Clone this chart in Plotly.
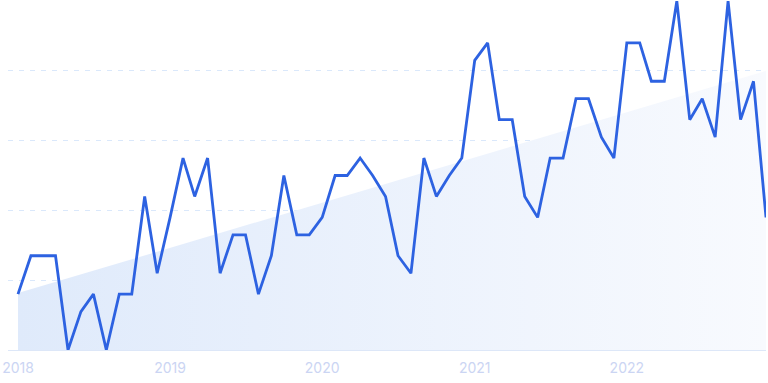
import pandas as pd
import plotly.graph_objects as go

months = pd.date_range("2018-01-01", periods=60, freq="MS")
values = [16, 27, 27, 27, 0, 11, 16, 0, 16, 16, 44, 22,
          38, 55, 44, 55, 22, 33, 33, 16, 27, 50, 33, 33,
          38, 50, 50, 55, 50, 44, 27, 22, 55, 44, 50, 55,
          83, 88, 66, 66, 44, 38, 55, 55, 72, 72, 61, 55,
          88, 88, 77, 77, 100, 66, 72, 61, 100, 66, 77, 38]
trend_dates = [months[0], months[-1]]
trend_values = [16.3, 80]
tick_dates = ["2018-01-01", "2019-01-01", "2020-01-01", "2021-01-01", "2022-01-01"]
tick_labels = ["2018", "2019", "2020", "2021", "2022"]
grid_vals = [20, 40, 60, 80, 100]

fig = go.Figure()
fig.add_trace(go.Scatter(
    x=trend_dates, y=trend_values, mode="lines",
    line=dict(width=0, color="rgba(0,0,0,0)"),
    fill="tozeroy",
    fillgradient=dict(type="horizontal",
                      colorscale=[[0, "rgb(223,234,251)"], [1, "rgb(248,250,254)"]]),
    hoverinfo="skip", showlegend=False,
))
fig.add_trace(go.Scatter(
    x=months, y=values, mode="lines",
    line=dict(color="#2d62e1", width=2.8),
    showlegend=False,
))

fig.update_layout(
    width=768, height=383,
    margin=dict(l=8, r=2, t=1, b=33),
    paper_bgcolor="white", plot_bgcolor="white",
    font=dict(family="Inter, Roboto, sans-serif"),
)
fig.update_xaxes(
    range=["2017-12-08", "2022-12-01"],
    tickvals=tick_dates, ticktext=tick_labels,
    tickfont=dict(size=14, color="#cbd5f3"),
    showgrid=False, zeroline=False,
    showline=True, linecolor="#dde7f8", linewidth=1,
    ticks="outside", ticklen=5, tickcolor="rgba(0,0,0,0)",
)
fig.update_yaxes(
    range=[0, 100], tickvals=grid_vals, showticklabels=False,
    showgrid=True, gridcolor="#dae8fb", gridwidth=1, griddash="5px,6px",
    zeroline=False, showline=False,
)

fig.write_html("out.html", config={"displayModeBar": False},
               post_script="document.body.style.margin='0';")
